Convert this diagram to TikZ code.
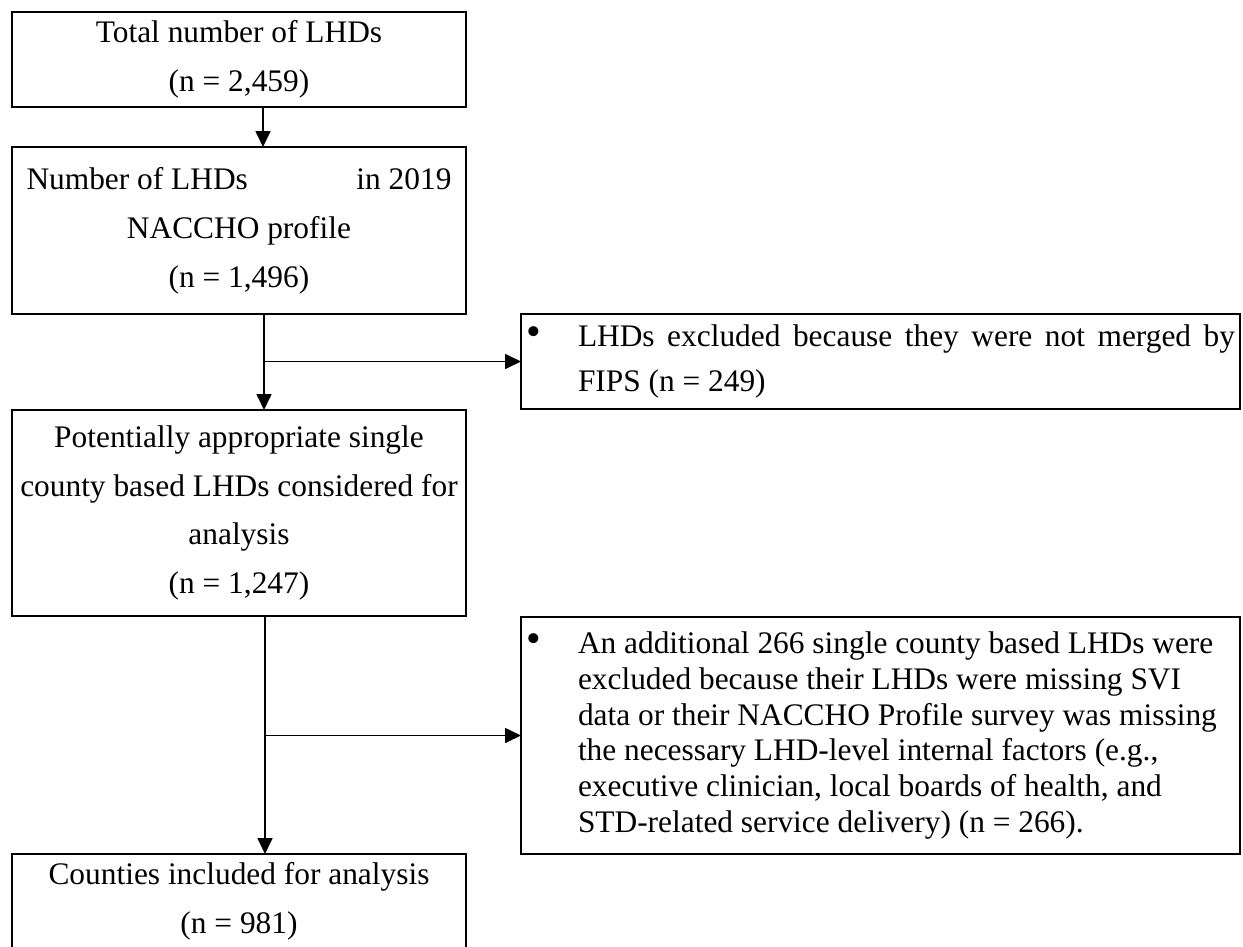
\documentclass[tikz,border=0pt]{standalone}
\usepackage{fontspec}
\setmainfont{Liberation Serif}
\usetikzlibrary{arrows.meta}
\newcommand{\bigbul}{\makebox[52bp][l]{\raisebox{1bp}{\fontsize{42}{42}\selectfont\textbullet}}}
\begin{document}
\begin{tikzpicture}[x=1bp,y=-1bp,
  box/.style={draw, line width=1.4bp, anchor=north west, inner sep=0pt, outer sep=0pt,
    minimum width=454bp, align=center, font=\fontsize{31.5}{49}\selectfont},
  exbox/.style={draw, line width=1.4bp, anchor=north west, inner sep=0pt, outer sep=0pt,
    minimum width=719bp},
  arr/.style={line width=1.7bp, -{Triangle[length=16bp,width=15bp]}}]
\useasboundingbox (0,0) rectangle (1243,947);
\node[box, minimum height=95bp] (b1) at (12,12) {Total number of LHDs\\(n = 2,459)};
\node[box, minimum height=167bp] (b2) at (12,147)
  {\makebox[425bp]{Number of LHDs\hfill in 2019}\\NACCHO profile\\(n = 1,496)};
\node[box, minimum height=206bp] (b3) at (12,410)
  {Potentially appropriate single\\county based LHDs considered for\\analysis\\(n = 1,247)};
\node[box, minimum height=95bp] (b4) at (12,854) {Counties included for analysis\\(n = 981)};
\node[exbox, minimum height=95bp] (ex1) at (521,314)
  {\begin{minipage}{709bp}\fontsize{31.5}{46}\selectfont\noindent\hangindent=52bp\hangafter=1
   \bigbul LHDs excluded because they were not merged by\linebreak
   FIPS (n = 249)\end{minipage}};
\node[exbox, minimum height=237bp] (ex2) at (521,617)
  {\begin{minipage}{709bp}\fontsize{31.5}{36}\selectfont\raggedright\noindent\hangindent=52bp\hangafter=1
   \bigbul An additional 266 single county based LHDs were\newline
   excluded because their LHDs were missing SVI\newline
   data or their NACCHO Profile survey was missing\newline
   the necessary LHD-level internal factors (e.g.,\newline
   executive clinician, local boards of health, and\newline
   STD-related service delivery) (n = 266).\end{minipage}};
\coordinate (s2) at ([xshift=25bp]b2.south);
\coordinate (s3) at ([xshift=26bp]b3.south);
\draw[arr] ([xshift=24bp]b1.south) -- ([xshift=24bp]b2.north);
\draw[arr] (s2) -- ([xshift=25bp]b3.north);
\draw[arr] (s2 |- ex1.west) -- (ex1.west);
\draw[arr] (s3) -- ([xshift=26bp]b4.north);
\draw[arr] (s3 |- ex2.west) -- (ex2.west);
\end{tikzpicture}
\end{document}
